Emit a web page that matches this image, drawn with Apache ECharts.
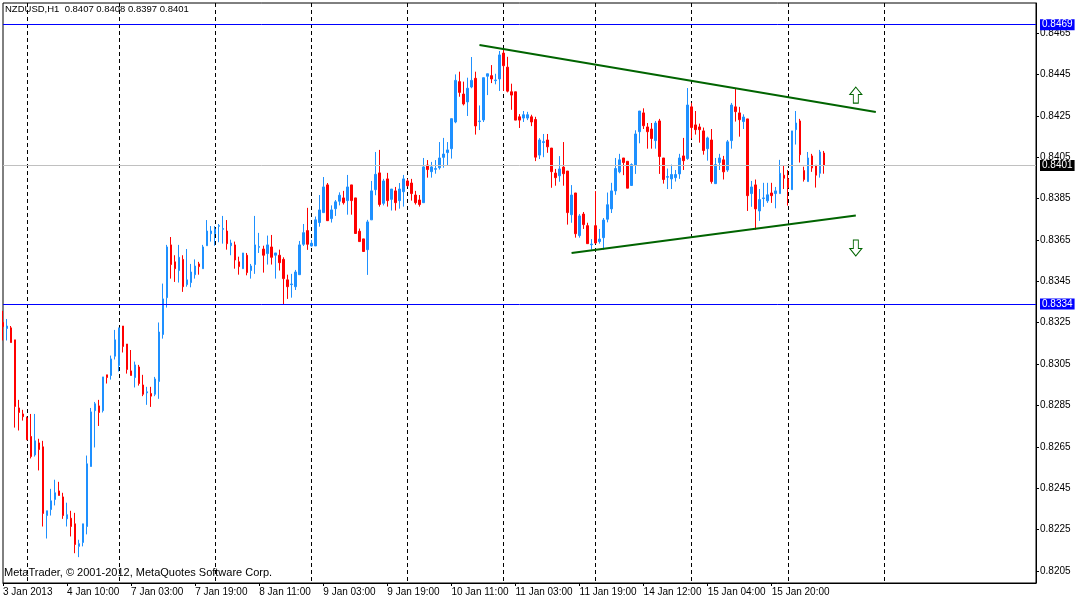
<!DOCTYPE html>
<html><head><meta charset="utf-8">
<script src="https://cdn.jsdelivr.net/npm/echarts@6/dist/echarts.min.js"></script>
<style>html,body{margin:0;padding:0;background:#fff}#c{width:1075px;height:599px}</style>
</head><body><div id="c"></div>
<script>
// ---- data (NZDUSD H1, 3 Jan 2013 18:00 .. 16 Jan 2013 09:00) ----
const opens = [
0.83251,0.83222,0.83225,0.83167,0.82838,0.82809,0.82790,0.82700,0.82611,0.82669,
0.82650,0.82318,0.82347,0.82396,0.82437,0.82408,0.82302,0.82305,0.82278,0.82169,
0.82188,0.82265,0.82555,0.82825,0.82848,0.82825,0.82998,0.82995,0.83088,0.83043,
0.83234,0.83147,0.83017,0.82985,0.83036,0.82949,0.82911,0.82908,0.82904,0.82966,
0.83193,0.83371,0.83626,0.83544,0.83502,0.83556,0.83434,0.83444,0.83482,0.83534,
0.83511,0.83622,0.83680,0.83680,0.83716,0.83701,0.83693,0.83622,0.83626,0.83544,
0.83511,0.83576,0.83502,0.83531,0.83614,0.83606,0.83584,0.83616,0.83576,0.83576,
0.83556,0.83457,0.83434,0.83424,0.83482,0.83629,0.83695,0.83621,0.83621,0.83734,
0.83782,0.83916,0.83753,0.83801,0.83837,0.83853,0.83840,0.83916,0.83853,0.83692,
0.83655,0.83603,0.83747,0.83893,0.83974,0.83827,0.83945,0.83846,0.83887,0.83840,
0.83883,0.83935,0.83925,0.83867,0.83843,0.83830,0.84012,0.83980,0.83991,0.83999,
0.84049,0.84072,0.84091,0.84220,0.84415,0.84355,0.84317,0.84389,0.84431,0.84222,
0.84230,0.84441,0.84444,0.84420,0.84428,0.84553,0.84485,0.84366,0.84366,0.84245,
0.84239,0.84239,0.84245,0.84232,0.84060,0.84121,0.84133,0.84094,0.83973,0.83960,
0.84002,0.83983,0.83772,0.83877,0.83671,0.83775,0.83719,0.83627,0.83719,0.83642,
0.83661,0.83750,0.83800,0.83887,0.83979,0.84046,0.84030,0.83913,0.84011,0.84173,
0.84264,0.84196,0.84186,0.84130,0.84225,0.84046,0.83953,0.83945,0.83951,0.83969,
0.84056,0.84043,0.84293,0.84206,0.84196,0.84177,0.84091,0.84133,0.83922,0.84024,
0.84037,0.83988,0.84130,0.84293,0.84264,0.84222,0.84235,0.83874,0.83916,0.83790,
0.83850,0.83839,0.83877,0.83874,0.83874,0.83963,0.83945,0.83893,0.84183,0.84225,
0.83985,0.83932,0.84056,0.84011,0.83972,0.84070
];
const highs = [
0.83307,0.83268,0.83234,0.83167,0.82877,0.82829,0.82796,0.82809,0.82809,0.82689,
0.82679,0.82341,0.82447,0.82491,0.82481,0.82428,0.82380,0.82341,0.82331,0.82201,
0.82278,0.82608,0.82838,0.82867,0.82877,0.82988,0.82998,0.83091,0.83215,0.83225,
0.83234,0.83147,0.83118,0.83062,0.83046,0.82998,0.82940,0.82940,0.82988,0.83251,
0.83439,0.83626,0.83664,0.83576,0.83626,0.83576,0.83606,0.83534,0.83556,0.83544,
0.83626,0.83746,0.83717,0.83717,0.83727,0.83766,0.83746,0.83651,0.83642,0.83569,
0.83587,0.83587,0.83534,0.83766,0.83684,0.83622,0.83671,0.83674,0.83587,0.83603,
0.83566,0.83482,0.83486,0.83505,0.83645,0.83727,0.83805,0.83650,0.83763,0.83867,
0.83954,0.83925,0.83817,0.83843,0.83880,0.83887,0.83964,0.83916,0.83853,0.83705,
0.83655,0.83747,0.83935,0.84075,0.84085,0.83945,0.83974,0.83896,0.83906,0.83925,
0.83964,0.83945,0.83945,0.83887,0.83867,0.84046,0.84036,0.84027,0.84036,0.84123,
0.84143,0.84123,0.84236,0.84450,0.84463,0.84415,0.84434,0.84534,0.84463,0.84300,
0.84434,0.84453,0.84495,0.84453,0.84563,0.84573,0.84535,0.84405,0.84366,0.84258,
0.84273,0.84269,0.84255,0.84245,0.84142,0.84162,0.84162,0.84094,0.83993,0.84055,
0.84123,0.83983,0.83915,0.83877,0.83775,0.83785,0.83733,0.83654,0.83886,0.83703,
0.83756,0.83879,0.83926,0.84046,0.84066,0.84046,0.84030,0.84020,0.84180,0.84273,
0.84286,0.84215,0.84215,0.84225,0.84235,0.84046,0.83995,0.84014,0.83988,0.84066,
0.84143,0.84384,0.84312,0.84273,0.84212,0.84193,0.84149,0.84186,0.84046,0.84066,
0.84056,0.84133,0.84312,0.84384,0.84293,0.84257,0.84235,0.83935,0.83942,0.83896,
0.83926,0.83926,0.83926,0.83906,0.84037,0.84008,0.83988,0.84177,0.84273,0.84235,
0.84004,0.84075,0.84066,0.84011,0.84085,0.84080
];
const lows = [
0.83164,0.83164,0.83154,0.82743,0.82729,0.82777,0.82684,0.82594,0.82603,0.82536,
0.82265,0.82207,0.82318,0.82367,0.82415,0.82302,0.82265,0.82217,0.82136,0.82117,
0.82169,0.82227,0.82555,0.82647,0.82751,0.82816,0.82956,0.82975,0.83072,0.83014,
0.83106,0.83004,0.82995,0.82937,0.82946,0.82895,0.82853,0.82843,0.82895,0.82882,
0.83173,0.83323,0.83463,0.83447,0.83444,0.83399,0.83424,0.83421,0.83463,0.83482,
0.83511,0.83622,0.83642,0.83622,0.83639,0.83632,0.83603,0.83576,0.83511,0.83482,
0.83511,0.83479,0.83463,0.83486,0.83587,0.83492,0.83531,0.83531,0.83463,0.83502,
0.83336,0.83365,0.83371,0.83408,0.83482,0.83621,0.83602,0.83618,0.83621,0.83714,
0.83782,0.83743,0.83734,0.83766,0.83817,0.83821,0.83772,0.83772,0.83681,0.83642,
0.83594,0.83481,0.83747,0.83866,0.83811,0.83817,0.83811,0.83792,0.83792,0.83801,
0.83811,0.83908,0.83840,0.83821,0.83811,0.83830,0.83951,0.83951,0.83970,0.83990,
0.83999,0.84009,0.84043,0.84214,0.84342,0.84300,0.84249,0.84383,0.84159,0.84181,
0.84220,0.84350,0.84408,0.84402,0.84370,0.84370,0.84363,0.84279,0.84229,0.84191,
0.84220,0.84229,0.84200,0.84031,0.84041,0.84050,0.84071,0.83902,0.83912,0.83931,
0.83912,0.83724,0.83733,0.83661,0.83661,0.83703,0.83632,0.83603,0.83632,0.83632,
0.83603,0.83735,0.83780,0.83868,0.83972,0.83963,0.83900,0.83913,0.83969,0.84117,
0.84186,0.84091,0.84091,0.84091,0.83969,0.83922,0.83896,0.83896,0.83932,0.83945,
0.83988,0.84037,0.84140,0.84159,0.84120,0.84062,0.84033,0.83922,0.83922,0.83988,
0.83942,0.83979,0.84091,0.84222,0.84149,0.84186,0.83790,0.83810,0.83699,0.83742,
0.83810,0.83829,0.83829,0.83803,0.83874,0.83896,0.83816,0.83893,0.84111,0.84024,
0.83932,0.83932,0.83979,0.83903,0.83951,0.83970
];
const closes = [
0.83231,0.83234,0.83154,0.82845,0.82816,0.82796,0.82684,0.82603,0.82679,0.82637,
0.82328,0.82341,0.82389,0.82428,0.82415,0.82318,0.82322,0.82265,0.82178,0.82182,
0.82278,0.82568,0.82819,0.82858,0.82816,0.82988,0.82985,0.83075,0.83167,0.83225,
0.83135,0.83024,0.82995,0.83046,0.82956,0.82904,0.82916,0.82895,0.82978,0.83205,
0.83365,0.83616,0.83531,0.83511,0.83566,0.83424,0.83457,0.83495,0.83524,0.83521,
0.83616,0.83693,0.83693,0.83703,0.83719,0.83705,0.83632,0.83635,0.83553,0.83521,
0.83587,0.83492,0.83524,0.83626,0.83618,0.83576,0.83626,0.83566,0.83587,0.83540,
0.83463,0.83424,0.83437,0.83495,0.83626,0.83685,0.83629,0.83634,0.83747,0.83795,
0.83906,0.83743,0.83795,0.83834,0.83866,0.83830,0.83906,0.83840,0.83681,0.83642,
0.83594,0.83737,0.83887,0.83967,0.83821,0.83935,0.83840,0.83896,0.83830,0.83896,
0.83945,0.83912,0.83874,0.83830,0.83821,0.84003,0.83990,0.84003,0.83995,0.84046,
0.84065,0.84085,0.84236,0.84421,0.84363,0.84307,0.84383,0.84421,0.84201,0.84225,
0.84434,0.84453,0.84428,0.84423,0.84544,0.84492,0.84369,0.84350,0.84229,0.84229,
0.84255,0.84255,0.84220,0.84050,0.84133,0.84125,0.84100,0.83980,0.83951,0.83993,
0.83970,0.83782,0.83867,0.83680,0.83766,0.83724,0.83632,0.83630,0.83635,0.83654,
0.83746,0.83820,0.83887,0.83995,0.84037,0.84024,0.83900,0.84014,0.84162,0.84273,
0.84202,0.84173,0.84140,0.84215,0.84053,0.83942,0.83956,0.83966,0.83966,0.84046,
0.84033,0.84302,0.84193,0.84183,0.84183,0.84082,0.84143,0.83932,0.84014,0.84046,
0.83979,0.84124,0.84302,0.84270,0.84231,0.84244,0.83864,0.83906,0.83800,0.83845,
0.83853,0.83868,0.83864,0.83887,0.83972,0.83948,0.83903,0.84177,0.84215,0.84062,
0.83942,0.84046,0.83998,0.83963,0.84075,0.84010
];
const totalSlots = 259;                       // bar slots incl. empty right margin
const tickLabels = [
  [0,'3 Jan 2013'],[16,'4 Jan 10:00'],[32,'7 Jan 03:00'],[48,'7 Jan 19:00'],
  [64,'8 Jan 11:00'],[80,'9 Jan 03:00'],[96,'9 Jan 19:00'],[112,'10 Jan 11:00'],
  [128,'11 Jan 03:00'],[144,'11 Jan 19:00'],[160,'14 Jan 12:00'],[176,'15 Jan 04:00'],
  [192,'15 Jan 20:00']
];
const daySeparators = [6,29,53,77,101,125,148,172,196,220];
const yTicks = [0.8205,0.8225,0.8245,0.8265,0.8285,0.8305,0.8325,0.8345,0.8365,0.8385,0.8405,0.8425,0.8445,0.8465];
const yMin = 0.81992, yMax = 0.84795;
const levelHigh = 0.8469, levelLast = 0.8401, levelLow = 0.8334;
const upperTrend = [[119,0.84592],[218,0.84268]];
const lowerTrend = [[142,0.83587],[213,0.83768]];
const arrowUpAt = [213,0.84350];
const arrowDownAt = [213,0.83611];
const headerText = 'NZDUSD,H1  0.8407 0.8408 0.8397 0.8401';
const copyrightText = 'MetaTrader, \u00a9 2001-2012, MetaQuotes Software Corp.';

// ---- build ----
const cats = Array.from({length: totalSlots}, (_, i) => String(i));
const candles = opens.map((o, i) => [o, closes[i], lows[i], highs[i]]);
const labelMap = new Map(tickLabels);
const sepSet = new Set(daySeparators);
const FONT = '"Liberation Sans", Arial, sans-serif';
const GREEN = '#006400';
const arrowPath = 'path://M6,0 L12,7 L8.5,7 L8.5,15 L3.5,15 L3.5,7 L0,7 Z';

function levelLine(v, lineColor, boxColor) {
  return {
    yAxis: v,
    lineStyle: {color: lineColor, width: 1, type: 'solid'},
    label: {show: true, position: 'end', formatter: v.toFixed(4), backgroundColor: boxColor,
      color: '#fff', padding: [1, 2, 0, 2], fontSize: 10, fontFamily: FONT, distance: 4}
  };
}

const chart = echarts.init(document.getElementById('c'), null, {renderer: 'canvas'});
chart.setOption({
  animation: false,
  backgroundColor: '#fff',
  grid: {left: 3, right: 39, top: 3, bottom: 16, show: true, borderColor: '#000', borderWidth: 1, backgroundColor: 'transparent'},
  xAxis: {
    type: 'category', data: cats, boundaryGap: false,
    axisLine: {show: true, lineStyle: {color: '#000'}},
    axisTick: {show: true, length: 3, interval: (i) => labelMap.has(i), lineStyle: {color: '#000'}},
    axisLabel: {show: true, interval: (i) => labelMap.has(i), formatter: (v, i) => labelMap.get(i) || '',
      align: 'left', margin: 4, color: '#000', fontSize: 10, fontFamily: FONT},
    splitLine: {show: true, interval: (i) => sepSet.has(i), lineStyle: {color: '#000', type: [4, 3], width: 1}}
  },
  yAxis: {
    type: 'value', position: 'right', min: yMin, max: yMax,
    axisLine: {show: true, lineStyle: {color: '#000'}},
    axisTick: {show: true, length: 3, customValues: yTicks, lineStyle: {color: '#000'}},
    axisLabel: {customValues: yTicks, formatter: (v) => v.toFixed(4), margin: 4, color: '#000', fontSize: 10, fontFamily: FONT},
    splitLine: {show: false}
  },
  series: [{
    type: 'candlestick',
    data: candles,
    barWidth: 2,
    clip: true,
    itemStyle: {color: '#1E90FF', color0: '#FF0000', borderColor: '#1E90FF', borderColor0: '#FF0000', borderColorDoji: '#1E90FF', borderWidth: 1},
    emphasis: {disabled: true},
    markLine: {
      silent: true, animation: false, symbol: ['none', 'none'], z: 10, precision: 6,
      emphasis: {disabled: true},
      data: [
        levelLine(levelHigh, '#0000ff', '#0000ff'),
        levelLine(levelLast, '#c0c0c0', '#000000'),
        levelLine(levelLow, '#0000ff', '#0000ff'),
        [{coord: [String(upperTrend[0][0]), upperTrend[0][1]], lineStyle: {color: GREEN, width: 2, type: 'solid'}, label: {show: false}},
         {coord: [String(upperTrend[1][0]), upperTrend[1][1]]}],
        [{coord: [String(lowerTrend[0][0]), lowerTrend[0][1]], lineStyle: {color: GREEN, width: 2, type: 'solid'}, label: {show: false}},
         {coord: [String(lowerTrend[1][0]), lowerTrend[1][1]]}]
      ]
    },
    markPoint: {
      silent: true, animation: false,
      label: {show: false},
      itemStyle: {color: '#fff', borderColor: GREEN, borderWidth: 1},
      data: [
        {coord: [String(arrowUpAt[0]), arrowUpAt[1]], symbol: arrowPath, symbolSize: [12, 16], symbolRotate: 0},
        {coord: [String(arrowDownAt[0]), arrowDownAt[1]], symbol: arrowPath, symbolSize: [12, 16], symbolRotate: 180}
      ]
    }
  }],
  graphic: [
    {type: 'text', left: 5, top: 4, z: 100, style: {text: headerText, fill: '#000', font: '9.5px ' + FONT}},
    {type: 'text', left: 4, top: 567, z: 100, style: {text: copyrightText, fill: '#000', font: '11px ' + FONT}}
  ]
});
</script>
</body></html>
